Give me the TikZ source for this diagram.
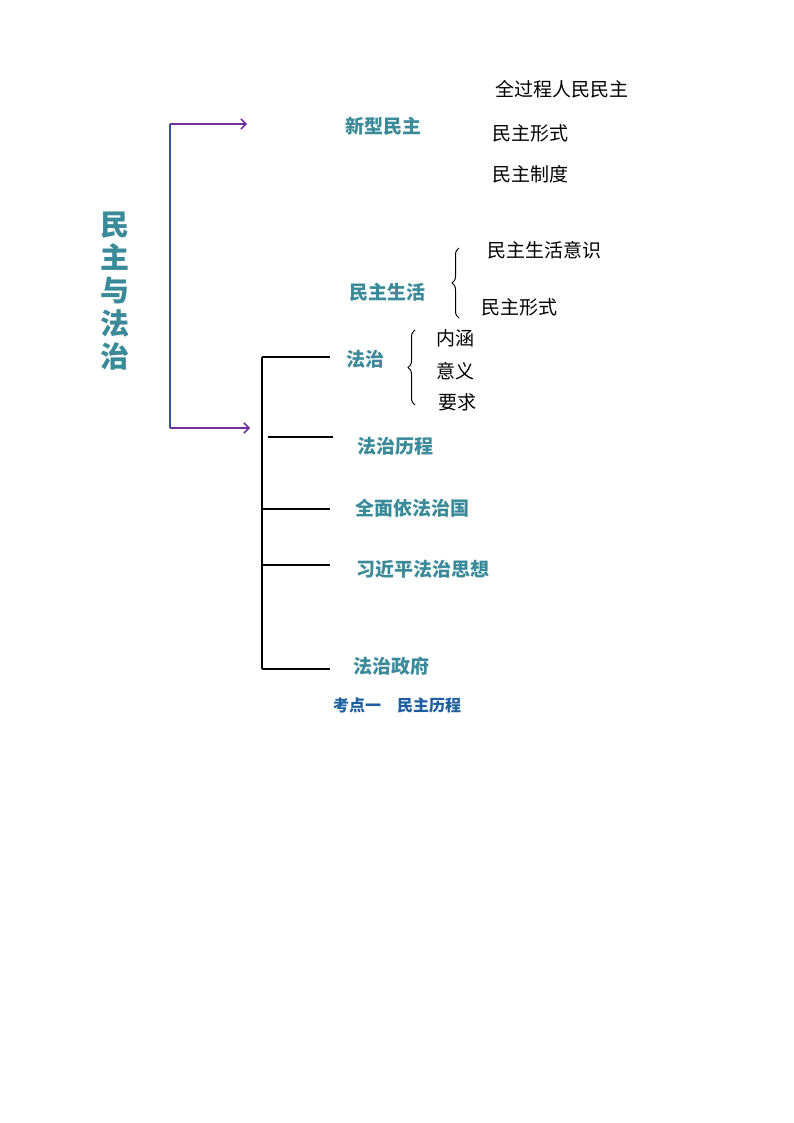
\documentclass[tikz,border=0pt]{standalone}
\usepackage{fontspec}
\newfontfamily\cjk{Noto Sans CJK SC}
\usetikzlibrary{arrows.meta,decorations.pathreplacing}
\definecolor{teal1}{HTML}{3A8A9A}
\definecolor{purp}{HTML}{7030A0}
\definecolor{navy}{HTML}{1F5F9F}
\begin{document}
\begin{tikzpicture}[x=1pt,y=-1pt,
  hd/.style={font=\cjk\bfseries\fontsize{19}{19}\selectfont,text=teal1},
  bk/.style={font=\cjk\fontsize{19}{19}\selectfont},
  arr/.style={purp,line width=1.5pt,-{Straight Barb[length=5pt,width=10pt]}},
  tr/.style={black,line width=1.3pt}]
\useasboundingbox (0,0) rectangle (794,1123);
\node[font=\cjk\bfseries\fontsize{29}{33}\selectfont,text=teal1,align=center] (t) at (115,291) {民\\主\\与\\法\\治};
\coordinate (c1) at (170,124); \coordinate (c2) at (170,428);
\draw[navy!70!purp,line width=1.5pt] (c1) -- (c2);
\coordinate (a1) at (247,124); \coordinate (a2) at (250,428);
\draw[arr] (c1) -- (a1);
\draw[arr] (c2) -- (a2);
\node[hd] (n1) at (383,126) {新型民主};
\node[hd] (n2) at (387,292) {民主生活};
\node[hd] (n3) at (365,359) {法治};
\node[hd] (n4) at (395,446) {法治历程};
\node[hd] (n5) at (412,508) {全面依法治国};
\node[hd] (n6) at (423,569) {习近平法治思想};
\node[hd] (n7) at (391,666) {法治政府};
\node[bk] (b1) at (562,89) {全过程人民民主};
\node[bk] (b2) at (530,133) {民主形式};
\node[bk] (b3) at (530,174) {民主制度};
\node[bk] (b4) at (544,250) {民主生活意识};
\node[bk] (b5) at (519,307) {民主形式};
\node[bk] (b6) at (455,338) {内涵};
\node[bk] (b7) at (455,371) {意义};
\node[bk] (b8) at (457,402) {要求};
\draw[decorate,decoration={brace,amplitude=7pt},line width=1pt] (459,318) -- (459,248);
\draw[decorate,decoration={brace,amplitude=7pt},line width=1pt] (415,405) -- (415,330);
\coordinate (v1) at (262,357); \coordinate (v2) at (262,669);
\draw[tr] (v1) -- (v2);
\coordinate (h1) at (330,357); \coordinate (h2) at (333,437); \coordinate (h3) at (330,509);
\coordinate (h4) at (330,565); \coordinate (h5) at (330,669);
\draw[tr] (v1) -- (h1);
\draw[tr] (268,437) -- (h2);
\draw[tr] (262,509) -- (h3);
\draw[tr] (262,565) -- (h4);
\draw[tr] (v2) -- (h5);
\node[font=\cjk\bfseries\fontsize{16}{16}\selectfont,text=navy] (k) at (397,705) {考点一\quad 民主历程};
\end{tikzpicture}
\end{document}
